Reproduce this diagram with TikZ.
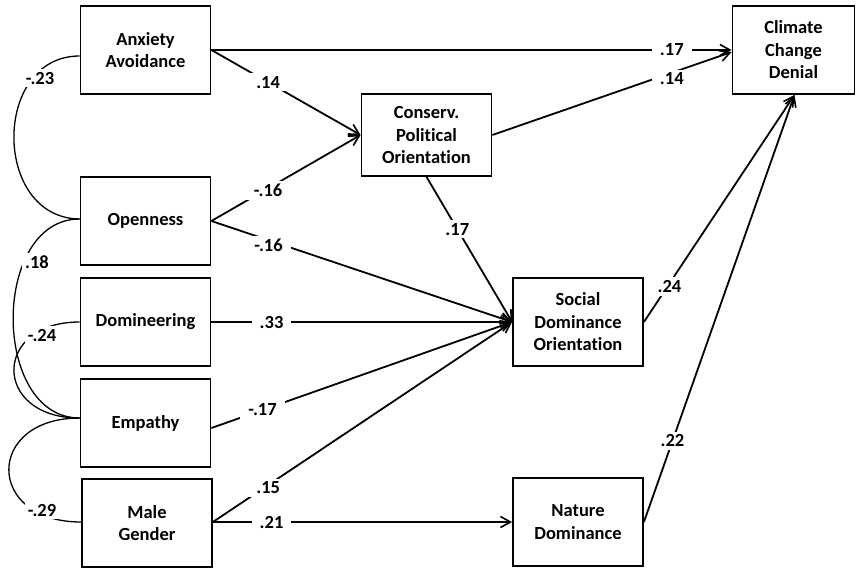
\documentclass[tikz,border=0pt]{standalone}
\usepackage{fontspec}
\setmainfont[Ligatures=NoCommon]{Carlito}
\usetikzlibrary{arrows.meta,calc}
\begin{document}
\begin{tikzpicture}[x=1pt,y=-1pt,
  lw/.style={line width=1.8pt},
  var/.style={draw,lw,rectangle,minimum width=130pt,minimum height=88pt,
    align=center,font=\bfseries\fontsize{18.5}{22.5}\selectfont,inner sep=0pt},
  path/.style={lw,-{Straight Barb[length=10pt,width=11pt,line width=1.6pt]}},
  corr/.style={line width=1.3pt},
  coef/.style={fill=white,inner xsep=8pt,inner ysep=3pt,font=\bfseries\fontsize{18.5}{20}\selectfont}]
\useasboundingbox (0,0) rectangle (856,570);

% exogenous variables
\node[var] (anx) at (145.5,50)  {Anxiety\\Avoidance};
\node[var] (ope) at (145.5,221) {Openness};
\node[var] (dom) at (145.5,322) {Domineering};
\node[var] (emp) at (145.5,423) {Empathy};
\node[var] (mal) at (147,523)   {Male\\Gender};

% mediators and outcome
\node[var,minimum height=82pt] (con) at (426.5,135) {Conserv.\\Political\\Orientation};
\node[var] (sdo) at (578,322) {Social\\Dominance\\Orientation};
\node[var] (nat) at (578,522) {Nature\\Dominance};
\node[var,minimum width=122pt] (cli) at (793.5,50) {Climate\\Change\\Denial};

% correlations among exogenous variables
\draw[corr] ($(anx.west)+(0,6)$) .. controls (-8,56) and (-8,218) .. ($(ope.west)+(0,-2)$);
\draw[corr] ($(ope.west)+(0,-2)$) .. controls (-9,219) and (-9,418) .. ($(emp.west)+(0,-5)$);
\draw[corr] (dom.west) .. controls (-8,322) and (-8,418) .. ($(emp.west)+(0,-5)$);
\draw[corr] ($(emp.west)+(0,-5)$) .. controls (-15,418) and (-15,522) .. ($(mal.west)+(0,-1)$);

\node[coef,inner xsep=3pt] (c1) at (40,78)  {-.23};
\node[coef,inner xsep=3pt] (c2) at (37,262) {.18};
\node[coef,inner xsep=3pt] (c3) at (42,335) {-.24};
\node[coef,inner xsep=3pt] (c4) at (42,510) {-.29};

% structural paths
\draw[path] (anx.east) -- node[coef,pos=0.885] (p1) {.17} (cli.west);
\draw[path] (anx.east) -- node[coef,pos=0.38] (p2) {.14} (con.west);
\draw[path] (ope.east) -- node[coef,pos=0.38,yshift=-2pt] (p3) {-.16} (con.west);
\draw[path] (ope.east) -- node[coef,pos=0.19,yshift=-5pt] (p4) {-.16} (sdo.west);
\draw[path] (con.south) -- node[coef,pos=0.36,inner xsep=3pt] (p5) {.17} (sdo.west);
\draw[path] (dom.east) -- node[coef,pos=0.2] (p6) {.33} (sdo.west);
\draw[path] ($(emp.east)+(0,5)$) -- node[coef,pos=0.17] (p7) {-.17} (sdo.west);
\draw[path] ($(mal.east)+(0,-1)$) -- node[coef,pos=0.185,yshift=-3pt] (p8) {.15} (sdo.west);
\draw[path] ($(mal.east)+(0,-1)$) -- node[coef,pos=0.196] (p9) {.21} (nat.west);
\draw[path] (con.east) -- node[coef,pos=0.75,yshift=-6pt] (p10) {.14} ($(cli.west)+(0,2)$);
\draw[path] (sdo.east) -- node[coef,pos=0.17,yshift=-3pt,inner xsep=3pt] (p11) {.24} ($(cli.south)+(1,0)$);
\draw[path] (nat.east) -- node[coef,pos=0.19,inner xsep=3pt] (p12) {.22} ($(cli.south)+(1,0)$);
\end{tikzpicture}
\end{document}
